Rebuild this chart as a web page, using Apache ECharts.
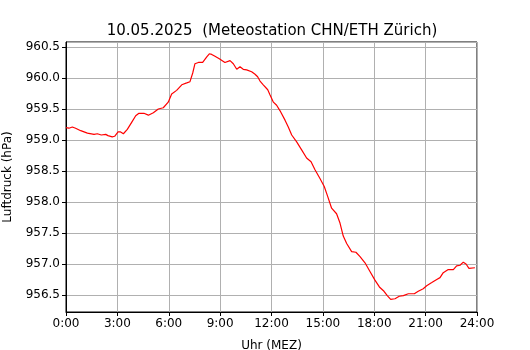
<!DOCTYPE html>
<html>
<head>
<meta charset="utf-8">
<script src="https://cdn.jsdelivr.net/npm/echarts@6/dist/echarts.min.js"></script>
<style>
  html, body { margin: 0; padding: 0; background: #fff; }
  #chart { width: 530px; height: 350px; }
</style>
</head>
<body>
<div id="chart"></div>
<script>
// Stunde des Tages (MEZ) und Luftdruck in hPa
let hours = [0.00, 0.17, 0.37, 0.56, 0.86, 1.25, 1.64, 1.83, 2.06, 2.32, 2.45, 2.70, 2.84, 3.04, 3.19, 3.35, 3.58, 3.87,
  4.07, 4.26, 4.55, 4.81, 5.10, 5.39, 5.68, 5.97, 6.17, 6.46, 6.76, 7.05, 7.24, 7.40, 7.53, 7.73, 7.98, 8.22, 8.37,
  8.51, 8.70, 8.95, 9.28, 9.58, 9.77, 9.97, 10.16, 10.35, 10.55, 10.84, 11.04, 11.19, 11.33, 11.52, 11.78, 11.91,
  12.11, 12.30, 12.50, 12.79, 12.98, 13.18, 13.47, 13.76, 14.05, 14.31, 14.54, 14.83, 15.08, 15.28, 15.51, 15.80,
  16.00, 16.19, 16.39, 16.68, 16.93, 17.17, 17.46, 17.75, 18.04, 18.30, 18.57, 18.76, 18.96, 19.21, 19.46, 19.70,
  19.99, 20.34, 20.57, 20.86, 21.06, 21.36, 21.65, 21.84, 22.03, 22.32, 22.62, 22.81, 23.01, 23.20, 23.36, 23.53, 23.88];
let pressure = [959.20, 959.19, 959.21, 959.19, 959.15, 959.11, 959.09, 959.10, 959.08, 959.09, 959.07, 959.05, 959.06,
  959.13, 959.13, 959.10, 959.17, 959.30, 959.39, 959.43, 959.43, 959.40, 959.44, 959.50, 959.52, 959.61, 959.74,
  959.80, 959.89, 959.92, 959.94, 960.08, 960.23, 960.25, 960.25, 960.34, 960.39, 960.38, 960.35, 960.31, 960.25,
  960.28, 960.23, 960.14, 960.18, 960.14, 960.13, 960.10, 960.06, 960.02, 959.95, 959.89, 959.81, 959.73, 959.61,
  959.56, 959.47, 959.32, 959.21, 959.08, 958.97, 958.84, 958.71, 958.65, 958.52, 958.38, 958.25, 958.09, 957.90,
  957.81, 957.66, 957.45, 957.33, 957.20, 957.19, 957.12, 957.02, 956.88, 956.74, 956.63, 956.56, 956.49, 956.43,
  956.44, 956.48, 956.49, 956.52, 956.52, 956.56, 956.60, 956.65, 956.70, 956.75, 956.78, 956.86, 956.91, 956.91,
  956.97, 956.98, 957.03, 957.00, 956.93, 956.94];

const chart = echarts.init(document.getElementById('chart'));
chart.setOption(chartOption());

function chartOption() {
  let font = 'DejaVu Sans';
  return {
    animation: false,
    title: {
      text: '10.05.2025  (Meteostation CHN/ETH Zürich)',
      left: 267,
      textAlign: 'center',
      top: 19,
      textStyle: {
        fontFamily: font,
        fontSize: 15,
        fontWeight: 'normal',
        color: '#000',
      },
    },
    grid: {
      left: 66,
      right: 53,
      top: 42,
      bottom: 38,
      outerBoundsMode: 'none',
      containLabel: false,
      show: true,
      borderColor: '#000',
      borderWidth: 1,
    },
    xAxis: {
      type: 'value',
      min: 0,
      max: 24,
      interval: 3,
      name: 'Uhr (MEZ)',
      nameLocation: 'middle',
      nameGap: 28,
      nameTextStyle: { fontFamily: font, fontSize: 12, color: '#000' },
      axisLine: { show: true, onZero: false, lineStyle: { color: '#000', width: 1 } },
      axisTick: { show: true, length: 4, lineStyle: { color: '#000' } },
      axisLabel: {
        fontFamily: font,
        fontSize: 12,
        color: '#000',
        margin: 6,
        formatter: function (v) { return v + ':00'; },
      },
      splitLine: { show: true, lineStyle: { color: '#b0b0b0', width: 1 } },
    },
    yAxis: {
      type: 'value',
      min: 956.226,
      max: 960.58,
      splitNumber: 8,
      name: 'Luftdruck (hPa)',
      nameLocation: 'middle',
      nameGap: 52,
      nameTextStyle: { fontFamily: font, fontSize: 12, color: '#000' },
      axisLine: { show: true, lineStyle: { color: '#000', width: 1 } },
      axisTick: { show: true, length: 4, lineStyle: { color: '#000' } },
      axisLabel: {
        fontFamily: font,
        fontSize: 12,
        color: '#000',
        margin: 6,
        showMinLabel: false,
        showMaxLabel: false,
        formatter: function (v) { return v.toFixed(1); },
      },
      splitLine: { show: true, lineStyle: { color: '#b0b0b0', width: 1 } },
    },
    series: [
      {
        type: 'line',
        symbol: 'none',
        lineStyle: { color: '#ff0000', width: 1.2 },
        data: hours.map(function (h, i) { return [h, pressure[i]]; }),
      },
    ],
  };
}
</script>
</body>
</html>
